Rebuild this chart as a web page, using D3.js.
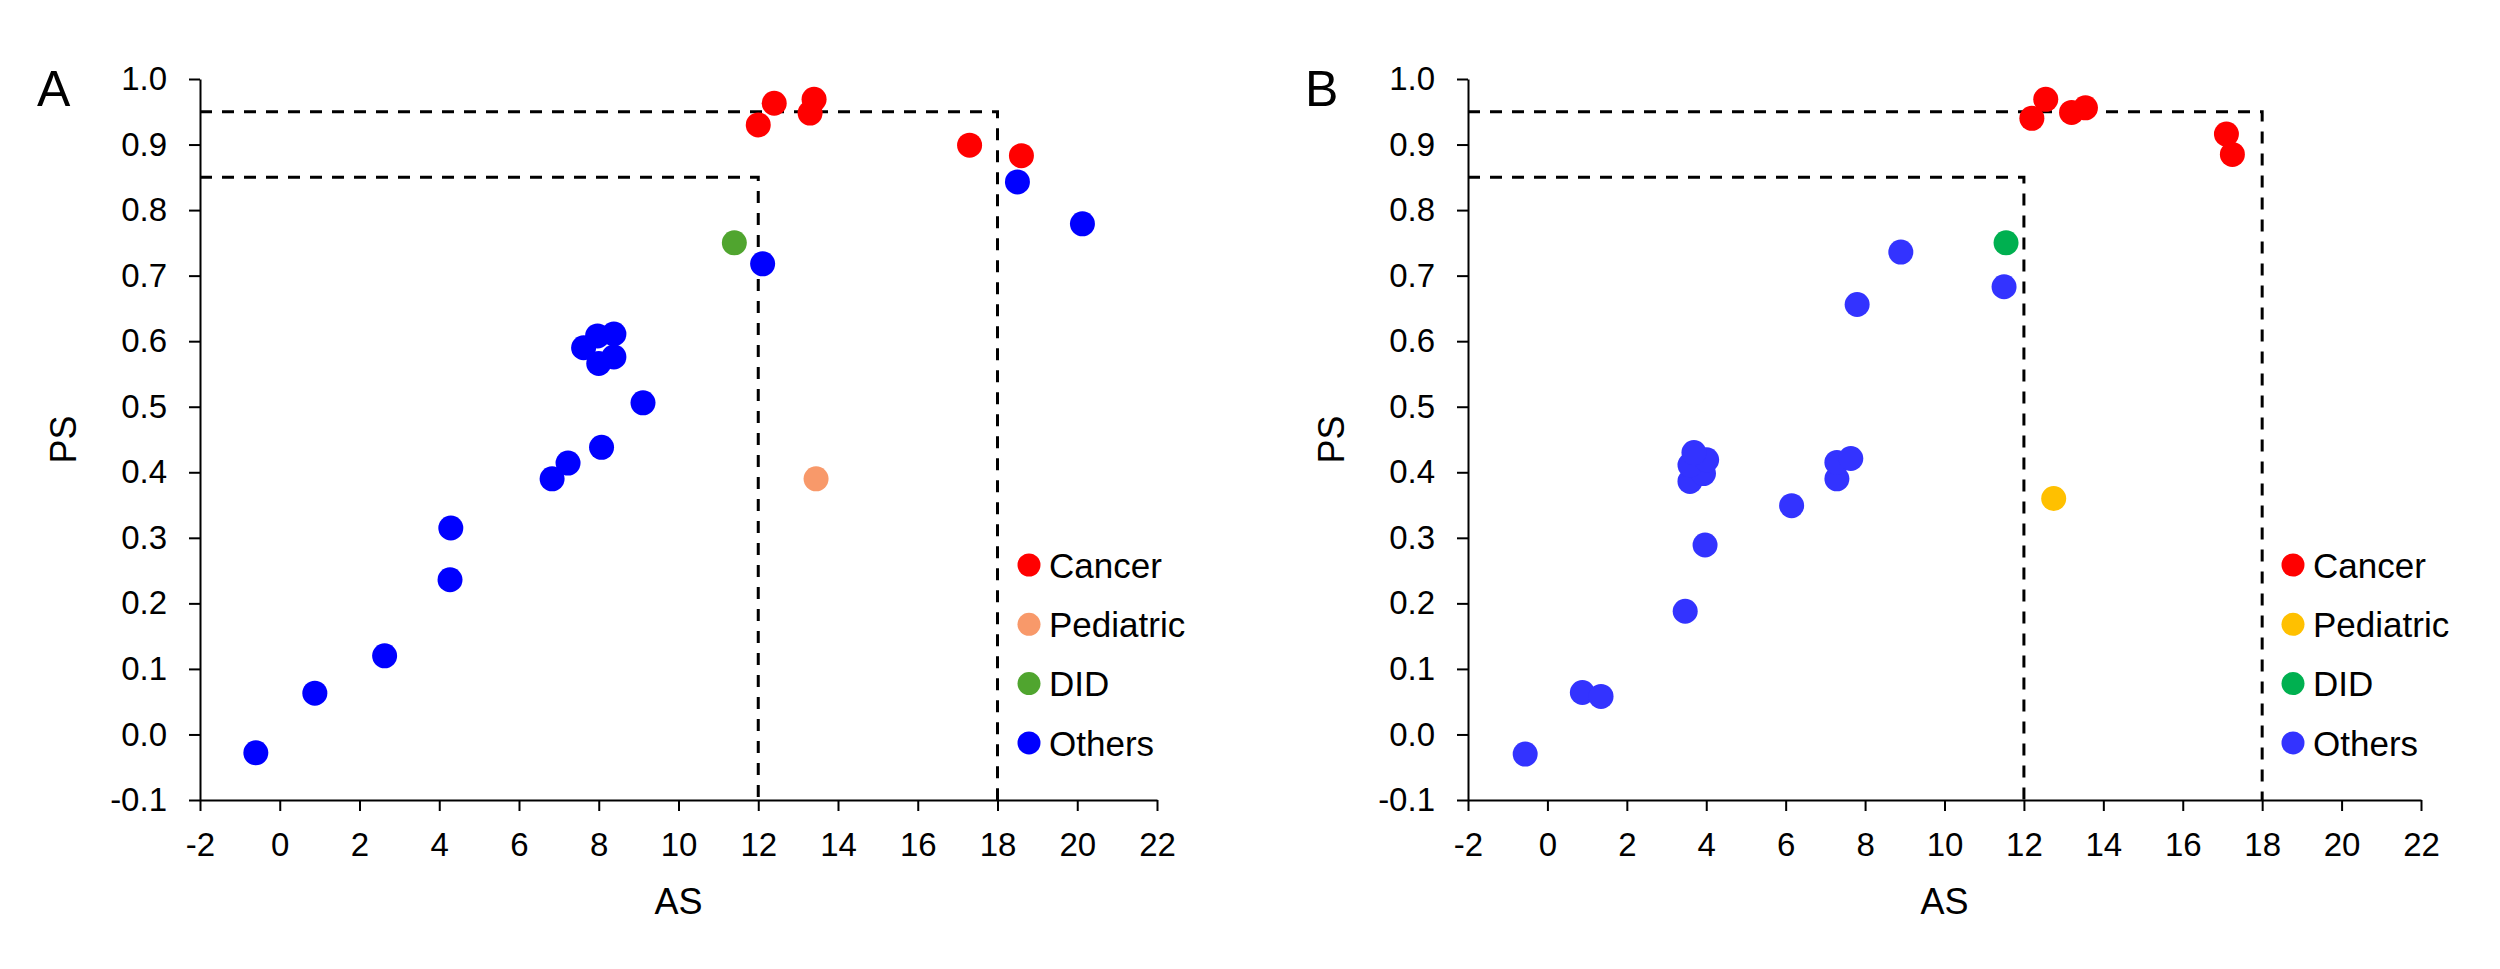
<!DOCTYPE html>
<html>
<head>
<meta charset="utf-8">
<script src="https://cdn.jsdelivr.net/npm/d3@7"></script>
<style>
  html, body { margin: 0; padding: 0; background: #fff; }
  svg { display: block; font-family: "Liberation Sans", Arial, sans-serif; }
</style>
</head>
<body>
<svg id="chart" width="2500" height="969"></svg>
<script>
// categories shared by both panels
var categories = ['Cancer', 'Pediatric', 'DID', 'Others'];
var xTicks = [-2, 0, 2, 4, 6, 8, 10, 12, 14, 16, 18, 20, 22];
var yTicks = [-0.1, 0, 0.1, 0.2, 0.3, 0.4, 0.5, 0.6, 0.7, 0.8, 0.9, 1.0];

// cutoffs drawn as dashed boxes: [AS, PS]
var cutoffs = [[18, 0.95], [12, 0.85]];

// panel A, [AS, PS]
var cancerA = [[12.0, 0.930], [12.4, 0.963], [13.3, 0.948], [13.4, 0.969], [17.3, 0.899], [18.6, 0.883]];
var pediatricA = [[13.45, 0.390]];
var didA = [[11.4, 0.750]];
var othersA = [[-0.6, -0.028], [0.88, 0.063], [2.63, 0.120], [4.27, 0.236], [4.29, 0.315],
  [6.83, 0.390], [7.23, 0.414], [8.07, 0.438], [9.11, 0.506], [7.62, 0.590], [7.97, 0.608],
  [8.38, 0.611], [8.0, 0.566], [8.38, 0.576], [12.11, 0.718], [18.5, 0.843], [20.13, 0.779]];

// panel B, [AS, PS]
var cancerB = [[12.2, 0.940], [12.55, 0.969], [13.2, 0.949], [13.55, 0.956], [17.1, 0.916], [17.25, 0.885]];
var pediatricB = [[12.75, 0.360]];
var didB = [[11.55, 0.750]];
var othersB = [[-0.56, -0.030], [0.88, 0.064], [1.35, 0.058], [3.47, 0.188], [3.97, 0.289],
  [3.59, 0.386], [3.93, 0.398], [3.59, 0.411], [4.01, 0.419], [3.69, 0.430], [6.15, 0.349],
  [7.29, 0.390], [7.29, 0.415], [7.64, 0.421], [7.8, 0.656], [8.9, 0.736], [11.5, 0.683]];

var colorsA = ['#ff0000', '#f8996a', '#50a52f', '#0000ff'];
var colorsB = ['#ff0000', '#ffc000', '#00b050', '#3333ff'];

var panels = [
  { label: 'A', left: 200, right: 1157, series: [cancerA, pediatricA, didA, othersA], colors: colorsA },
  { label: 'B', left: 1468, right: 2421, series: [cancerB, pediatricB, didB, othersB], colors: colorsB }
];

var plotTop = 79, plotBottom = 800;
var svg = d3.select('#chart');

function drawPanel(p) {
  var g = svg.append('g');
  var x = d3.scaleLinear().domain([-2, 22]).range([p.left, p.right]);
  var y = d3.scaleLinear().domain([-0.1, 1.0]).range([plotBottom, plotTop]);

  // dashed cutoff lines
  cutoffs.forEach(function(c) {
    g.append('path')
      .attr('d', 'M' + x(-2) + ',' + y(c[1]) + 'H' + x(c[0]) + 'V' + y(-0.1))
      .attr('fill', 'none')
      .attr('stroke', '#000')
      .attr('stroke-width', 3)
      .attr('stroke-dasharray', '12,10');
  });

  var xAxis = g.append('g')
    .attr('transform', 'translate(0,' + plotBottom + ')')
    .call(d3.axisBottom(x).tickValues(xTicks).tickFormat(function(d) { return String(d); })
      .tickSize(11).tickSizeOuter(0).tickPadding(22));
  var yAxis = g.append('g')
    .attr('transform', 'translate(' + p.left + ',0)')
    .call(d3.axisLeft(y).tickValues(yTicks).tickFormat(function(d) { return d.toFixed(1); })
      .tickSize(11).tickSizeOuter(0).tickPadding(22));

  [xAxis, yAxis].forEach(function(a) {
    a.selectAll('path, line').attr('stroke', '#000').attr('stroke-width', 2);
    a.selectAll('text').attr('font-size', 33).attr('fill', '#000')
      .attr('font-family', '"Liberation Sans", Arial, sans-serif');
  });

  // points
  p.series.forEach(function(pts, i) {
    g.append('g').selectAll('circle')
      .data(pts)
      .enter().append('circle')
      .attr('cx', function(d) { return x(d[0]); })
      .attr('cy', function(d) { return y(d[1]); })
      .attr('r', 12.5)
      .attr('fill', p.colors[i]);
  });

  // axis titles
  g.append('text')
    .attr('x', (p.left + p.right) / 2)
    .attr('y', 914)
    .attr('text-anchor', 'middle')
    .attr('font-size', 36)
    .text('AS');
  g.append('text')
    .attr('transform', 'translate(' + (p.left - 124) + ',' + ((plotTop + plotBottom) / 2) + ') rotate(-90)')
    .attr('text-anchor', 'middle')
    .attr('font-size', 36)
    .text('PS');

  // panel letter
  g.append('text')
    .attr('x', p.left - 163)
    .attr('y', 106)
    .attr('font-size', 50)
    .text(p.label);

  // legend
  var legend = g.append('g').attr('transform', 'translate(' + (p.right - 128) + ',565)');
  categories.forEach(function(name, i) {
    var row = legend.append('g').attr('transform', 'translate(0,' + (i * 59.3) + ')');
    row.append('circle').attr('r', 11.5).attr('fill', p.colors[i]);
    row.append('text')
      .attr('x', 20)
      .attr('dy', '0.36em')
      .attr('font-size', 35)
      .text(name);
  });
}

panels.forEach(drawPanel);
</script>
</body>
</html>
